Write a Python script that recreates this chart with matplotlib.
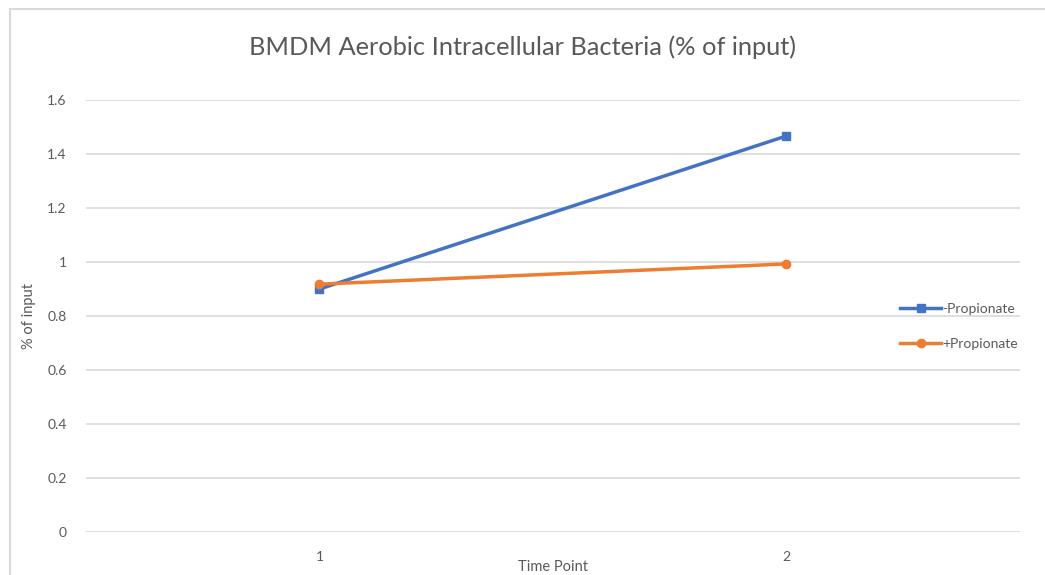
import matplotlib
matplotlib.use('Agg')
import matplotlib.pyplot as plt
from matplotlib.patches import Rectangle

# Dados
time_points = [1, 2]
sem_propionato = [0.90, 1.467]
com_propionato = [0.918, 0.993]
y_ticks = [0, 0.2, 0.4, 0.6, 0.8, 1, 1.2, 1.4, 1.6]
y_tick_labels = ['0', '0.2', '0.4', '0.6', '0.8', '1', '1.2', '1.4', '1.6']

plt.rcParams['font.family'] = ['Lato', 'DejaVu Sans']

fig = plt.figure(figsize=(10.45, 5.75), dpi=100)
ax = fig.add_axes([0.0823, 0.0748, 0.8937, 0.7512])

ax.plot(time_points, sem_propionato, color='#4472C4', linewidth=2.5,
        marker='s', markersize=6, label='-Propionate')
ax.plot(time_points, com_propionato, color='#ED7D31', linewidth=2.5,
        marker='o', markersize=6, label='+Propionate')

ax.set_xlim(0.5, 2.5)
ax.set_ylim(0, 1.6)
ax.set_xticks(time_points)
ax.set_xticklabels(['1', '2'])
ax.set_yticks(y_ticks)
ax.set_yticklabels(y_tick_labels)
ax.grid(axis='y', color='#d9d9d9', linewidth=1.2)
ax.set_axisbelow(True)
for s in ax.spines.values():
    s.set_visible(False)
ax.tick_params(length=0, labelsize=10, colors='#595959')
ax.tick_params(axis='y', pad=14)
ax.tick_params(axis='x', pad=14)

ax.set_ylabel('% of input', fontsize=10.5, color='#595959', labelpad=8)
ax.set_xlabel('Time Point', fontsize=10.5, color='#595959', labelpad=0)
ax.xaxis.set_label_coords(0.5, -0.065)
fig.text(0.5, 0.918, 'BMDM Aerobic Intracellular Bacteria (% of input)',
         ha='center', va='center', fontsize=18.3, color='#595959')

ax.legend(loc='center left', bbox_to_anchor=(0.858, 0.476), frameon=False,
          fontsize=10, labelcolor='#595959', handlelength=3,
          handletextpad=0.05, labelspacing=1.7)

# moldura do gráfico
fig.patches.append(Rectangle((10 / 1045, -0.01), 1.1, 1 - 9 / 575 + 0.01,
                             transform=fig.transFigure, fill=False,
                             edgecolor='#d9d9d9', linewidth=1.5))

fig.savefig('out.png', dpi=100)
